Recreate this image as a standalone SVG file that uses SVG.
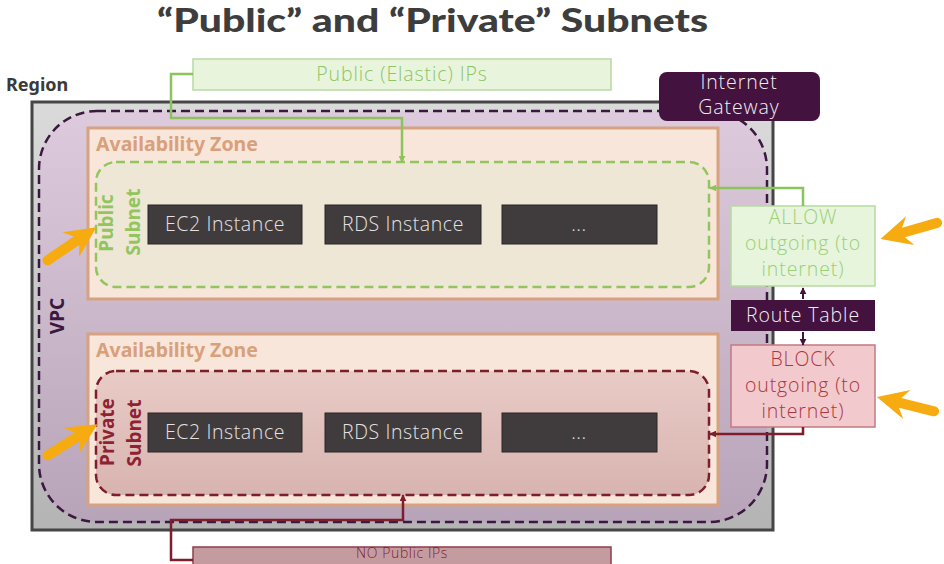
<svg xmlns="http://www.w3.org/2000/svg" width="944" height="564" viewBox="0 0 944 564">
<style>
.title{font-family:Lato,"Noto Sans",sans-serif;font-weight:900;font-size:33px;fill:#3d3d3d}
.lbl{font-family:"Noto Sans","Open Sans",sans-serif;font-weight:700}
.inst{font-family:"Open Sans","Noto Sans",sans-serif;font-weight:300;font-size:19.5px;letter-spacing:0.6px;fill:#e6e2e2;text-anchor:middle}
.t18{font-family:"Open Sans","Noto Sans",sans-serif;font-weight:300;font-size:19.5px;letter-spacing:0.9px;text-anchor:middle}
.ibox{fill:#403c3d;stroke:#2a2426;stroke-width:1}
.orange{fill:#f6ac10}
</style>
<defs>
<linearGradient id="gRegion" x1="0" y1="0" x2="0" y2="1">
<stop offset="0" stop-color="#dadada"/><stop offset="1" stop-color="#b4b4b4"/>
</linearGradient>
<linearGradient id="gVpc" x1="0" y1="0" x2="0" y2="1">
<stop offset="0" stop-color="#ddcbdd"/><stop offset="1" stop-color="#b8a4b8"/>
</linearGradient>
<linearGradient id="gPriv" x1="0" y1="0" x2="0" y2="1">
<stop offset="0" stop-color="#e9cbc6"/><stop offset="1" stop-color="#d8b4b0"/>
</linearGradient>
<marker id="aGreen" viewBox="0 0 10 10" refX="9" refY="5" markerWidth="7" markerHeight="7" orient="auto-start-reverse" markerUnits="userSpaceOnUse">
<path d="M0,0 L10,5 L0,10 Z" fill="#8cc45c"/>
</marker>
<marker id="aRed" viewBox="0 0 10 10" refX="9" refY="5" markerWidth="7" markerHeight="7" orient="auto-start-reverse" markerUnits="userSpaceOnUse">
<path d="M0,0 L10,5 L0,10 Z" fill="#7e1e2c"/>
</marker>
<marker id="aPurp" viewBox="0 0 10 10" refX="9" refY="5" markerWidth="7" markerHeight="7" orient="auto-start-reverse" markerUnits="userSpaceOnUse">
<path d="M0,0 L10,5 L0,10 Z" fill="#43123f"/>
</marker>
<path id="bigArrow" d="M3,-5 L38,-5 L31,-15 L62,0 L31,15 L38,5 L3,5 A5,5 0 0 1 3,-5 Z"/>
</defs>

<text class="title" x="157" y="32" textLength="551" lengthAdjust="spacingAndGlyphs">“Public” and “Private” Subnets</text>

<g id="region">
<rect x="32" y="102" width="741" height="428" fill="url(#gRegion)" stroke="#454545" stroke-width="3"/>
<text class="lbl" x="6" y="91" font-size="18" fill="#3a3a3a">Region</text>
</g>

<g id="vpc">
<rect x="39" y="111" width="728" height="411" rx="58" fill="url(#gVpc)" stroke="#3b1840" stroke-width="2.5" stroke-dasharray="9,5"/>
<text class="lbl" transform="translate(64,316) rotate(-90)" text-anchor="middle" font-size="19" fill="#3b1840">VPC</text>
</g>

<g id="az1">
<rect x="88" y="128" width="630" height="171" fill="#f8e6da" stroke="#d6a27f" stroke-width="3"/>
<text class="lbl" x="96" y="151" font-size="19.5" fill="#d9a07a">Availability Zone</text>
</g>

<g id="public-subnet">
<rect x="96" y="162" width="613" height="125" rx="20" fill="#eee7d5" stroke="#92c55e" stroke-width="2.5" stroke-dasharray="9,5"/>
<text class="lbl" transform="translate(113,223) rotate(-90)" text-anchor="middle" font-size="19" fill="#92c55e">Public</text>
<text class="lbl" transform="translate(140,222) rotate(-90)" text-anchor="middle" font-size="19" fill="#92c55e">Subnet</text>
</g>

<g id="pub-ec2"><rect class="ibox" x="148" y="205" width="154" height="39"/><text class="inst" x="225" y="231">EC2 Instance</text></g>
<g id="pub-rds"><rect class="ibox" x="325" y="205" width="156" height="39"/><text class="inst" x="403" y="231">RDS Instance</text></g>
<g id="pub-more"><rect class="ibox" x="502" y="205" width="155" height="39"/><text class="inst" x="579" y="231">...</text></g>

<g id="az2">
<rect x="88" y="334" width="630" height="171" fill="#f8e6da" stroke="#d6a27f" stroke-width="3"/>
<text class="lbl" x="96" y="357" font-size="19.5" fill="#d9a07a">Availability Zone</text>
</g>

<g id="private-subnet">
<rect x="96" y="371" width="613" height="124" rx="20" fill="url(#gPriv)" stroke="#7e1e2c" stroke-width="2.5" stroke-dasharray="9,5"/>
<text class="lbl" transform="translate(114,432) rotate(-90)" text-anchor="middle" font-size="19" fill="#8e2232">Private</text>
<text class="lbl" transform="translate(141,433) rotate(-90)" text-anchor="middle" font-size="19" fill="#8e2232">Subnet</text>
</g>

<g id="priv-ec2"><rect class="ibox" x="148" y="413" width="154" height="39"/><text class="inst" x="225" y="439">EC2 Instance</text></g>
<g id="priv-rds"><rect class="ibox" x="325" y="413" width="156" height="39"/><text class="inst" x="403" y="439">RDS Instance</text></g>
<g id="priv-more"><rect class="ibox" x="502" y="413" width="155" height="39"/><text class="inst" x="579" y="439">...</text></g>

<g id="public-ips">
<rect x="193" y="59" width="418" height="31" fill="#e8f5dc" stroke="#b9d9a2" stroke-width="1.5"/>
<text class="t18" x="402" y="81" fill="#8cc466">Public (Elastic) IPs</text>
</g>

<g id="internet-gateway">
<rect x="659" y="72" width="161" height="49" rx="8" fill="#43123f"/>
<text class="t18" x="739" y="89" fill="#f2eef2">Internet</text>
<text class="t18" x="739" y="114" fill="#f2eef2">Gateway</text>
</g>

<g id="allow">
<rect x="731" y="206" width="144" height="80" fill="#e6f5dc" stroke="#b7da9f" stroke-width="1.5"/>
<text class="t18" x="803" y="224" fill="#9ccf77">ALLOW</text>
<text class="t18" x="803" y="250" fill="#9ccf77">outgoing (to</text>
<text class="t18" x="803" y="276" fill="#9ccf77">internet)</text>
</g>

<g id="route-table">
<rect x="731" y="300" width="144" height="31" fill="#43123f"/>
<text class="t18" x="803" y="322" fill="#f2eef2">Route Table</text>
</g>

<g id="block">
<rect x="731" y="345" width="144" height="82" fill="#f2c9cc" stroke="#c27a82" stroke-width="1.5"/>
<text class="t18" x="803" y="366" fill="#a83842">BLOCK</text>
<text class="t18" x="803" y="392" fill="#a83842">outgoing (to</text>
<text class="t18" x="803" y="418" fill="#a83842">internet)</text>
</g>

<g id="no-public-ips">
<rect x="193" y="547" width="418" height="30" fill="#c49ca0" stroke="#8e3d4a" stroke-width="1.5"/>
<text class="t18" x="402" y="558" fill="#7e1e2c" style="font-size:14px;letter-spacing:0.6px">NO Public IPs</text>
</g>

<g id="connectors" fill="none">
<path d="M193,74 H171 V118 H402 V162" stroke="#8cc45c" stroke-width="2.5" marker-end="url(#aGreen)"/>
<path d="M803,206 V188 H710" stroke="#8cc45c" stroke-width="2.5" marker-end="url(#aGreen)"/>
<path d="M803,299 V288" stroke="#43123f" stroke-width="2" marker-end="url(#aPurp)"/>
<path d="M803,332 V345" stroke="#43123f" stroke-width="2" marker-end="url(#aPurp)"/>
<path d="M803,427 V434 H710" stroke="#7e1e2c" stroke-width="2.5" marker-end="url(#aRed)"/>
<path d="M193,560 H171 V520 H403 V495" stroke="#7e1e2c" stroke-width="2.5" marker-end="url(#aRed)"/>
</g>

<g id="pointers" class="orange">
<use href="#bigArrow" transform="translate(45,262) rotate(-34)"/>
<use href="#bigArrow" transform="translate(45,457) rotate(-32)"/>
<use href="#bigArrow" transform="translate(940,222) rotate(164)"/>
<use href="#bigArrow" transform="translate(937,412) rotate(194)"/>
</g>
</svg>
